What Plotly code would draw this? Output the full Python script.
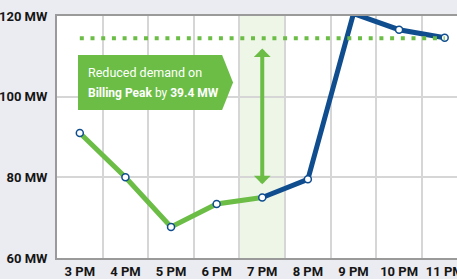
import plotly.graph_objects as go

hours = ["3 PM", "4 PM", "5 PM", "6 PM", "7 PM", "8 PM", "9 PM", "10 PM", "11 PM"]
demand_mw = [91.0, 80.0, 67.7, 73.4, 75.0, 79.5, 120.6, 116.6, 114.6]
billing_peak_line_mw = 114.5
event_hour_index = 4  # 7 PM
y_tick_vals = [60, 80, 100, 120]
y_tick_text = ["60 MW", "80 MW", "100 MW", "120 MW"]
label_line1 = "Reduced demand on"
label_line2 = "<b>Billing Peak</b> by <b>39.4 MW</b>"

GREEN = "#6bbd45"
BLUE = "#0f4d8f"
BG = "#ebebf2"
GRID = "#d6d6d6"
FONT = "Roboto, Liberation Sans Narrow, sans-serif"

idx = list(range(len(hours)))
e = event_hour_index

fig = go.Figure()

# green (reduced) segment
fig.add_trace(go.Scatter(x=idx[:e + 1], y=demand_mw[:e + 1], mode="lines",
                         line=dict(color=GREEN, width=5), hoverinfo="skip"))
# blue segment
fig.add_trace(go.Scatter(x=idx[e:], y=demand_mw[e:], mode="lines",
                         line=dict(color=BLUE, width=5), hoverinfo="skip"))
# markers
fig.add_trace(go.Scatter(x=idx, y=demand_mw, mode="markers", cliponaxis=False,
                         marker=dict(size=7, color="white", line=dict(color=BLUE, width=1.5))))
# dotted billing peak line
fig.add_trace(go.Scatter(x=[idx[0], idx[-1]], y=[billing_peak_line_mw] * 2, mode="lines",
                         line=dict(color=GREEN, width=4, dash="4px,6.7px"), hoverinfo="skip"))

# highlighted event column
fig.add_shape(type="rect", xref="x", yref="paper", x0=e - 0.5, x1=e + 0.5, y0=0, y1=1,
              fillcolor="#eef6e8", line=dict(width=0), layer="below")

# label box (pentagon)
bx0, bx1, bxp = -0.04, 3.12, 3.36
by0, by1 = 96.7, 110.3
fig.add_shape(type="path",
              path=f"M{bx0},{by1} L{bx1},{by1} L{bxp},{(by0 + by1) / 2} L{bx1},{by0} L{bx0},{by0} Z",
              fillcolor=GREEN, line=dict(width=0), layer="above")

fig.add_annotation(x=0.14, y=106.1, text=label_line1, showarrow=False, xanchor="left",
                   yanchor="middle", font=dict(family=FONT, size=12.5, color="white"))
fig.add_annotation(x=0.14, y=100.9, text=label_line2, showarrow=False, xanchor="left",
                   yanchor="middle", font=dict(family=FONT, size=12, color="white"))

# double arrow
fig.add_annotation(x=e, y=78.3, ax=e, ay=112.3, xref="x", yref="y", axref="x", ayref="y",
                   text="", showarrow=True, arrowside="end+start",
                   arrowhead=1, startarrowhead=1, arrowsize=0.7, startarrowsize=0.7,
                   arrowwidth=4, arrowcolor=GREEN)

fig.update_layout(
    width=457, height=279,
    margin=dict(l=57, r=0, t=16, b=21),
    paper_bgcolor=BG, plot_bgcolor="white",
    showlegend=False,
    font=dict(family=FONT, size=13, color="#151515"),
)
fig.update_xaxes(
    range=[-0.5, 8.27], tickmode="array", tickvals=idx, ticktext=[f"<b>{h}</b>" for h in hours],
    showgrid=False, zeroline=False, showline=True, linecolor="#9a9a9a", linewidth=2, mirror=True,
    ticks="", automargin=False, ticklabeloverflow="allow",
    minor=dict(tickvals=[i + 0.5 for i in idx[:-1]], showgrid=True, gridcolor=GRID, gridwidth=1.5, ticks=""),
)
fig.update_yaxes(
    range=[60, 120], tickmode="array", tickvals=y_tick_vals, ticktext=[f"<b>{t}</b>" for t in y_tick_text],
    showgrid=True, gridcolor=GRID, gridwidth=1.5, zeroline=False,
    showline=True, linecolor="#9a9a9a", linewidth=2, mirror=False,
    ticks="", ticklabelstandoff=5, automargin=False,
)

fig.write_html("out.html", config={"displayModeBar": False},
               post_script="document.body.style.margin='0';")
